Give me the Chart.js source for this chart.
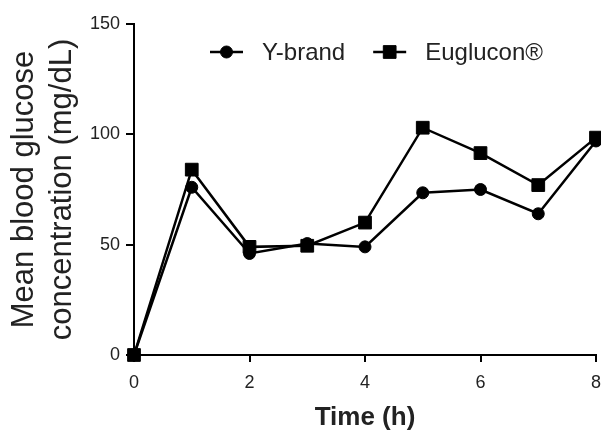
<!DOCTYPE html>
<html>
<head>
<meta charset="utf-8">
<script src="https://cdn.jsdelivr.net/npm/chart.js@4"></script>
<style>
    html, body { margin: 0; padding: 0; background: #fff; }
    #wrap { width: 601px; height: 434px; }
</style>
</head>
<body>
<div id="wrap"><canvas id="glucoseChart" width="601" height="434"></canvas></div>
<script>
// Values
const timeHours = [0, 1, 2, 3, 4, 5, 6, 7, 8];
const yBrand = [0, 76, 46, 50.5, 49, 73.5, 75, 64, 97];
const euglucon = [0, 84, 49, 49.5, 60, 103, 91.5, 77, 98.5];
const seriesNames = ['Y-brand', 'Euglucon®'];

const FONT = '"Liberation Sans", Arial, sans-serif';
const INK = '#000';
const TEXT = '#222';

function toPoints(values) {
    return values.map((v, i) => ({ x: timeHours[i], y: v }));
}

// Legend drawn inside the plot area, line + marker like the original
const innerLegend = {
    id: 'innerLegend',
    afterDraw(chart) {
        const { ctx, chartArea } = chart;
        const lineLen = 33;
        const gapText = 19;
        const gapItem = 28;
        let x = chartArea.left + 76;
        const y = chartArea.top + 28;

        ctx.save();
        ctx.font = '24px ' + FONT;
        ctx.textBaseline = 'middle';
        chart.data.datasets.forEach(ds => {
            ctx.strokeStyle = ds.borderColor;
            ctx.lineWidth = ds.borderWidth;
            ctx.beginPath();
            ctx.moveTo(x, y);
            ctx.lineTo(x + lineLen, y);
            ctx.stroke();
            ctx.fillStyle = INK;
            ctx.lineWidth = 1;
            Chart.helpers.drawPoint(ctx, {
                pointStyle: ds.pointStyle,
                radius: ds.pointRadius,
                borderWidth: 1
            }, x + lineLen / 2, y);
            ctx.fillStyle = TEXT;
            ctx.fillText(ds.label, x + lineLen + gapText, y + 1);
            x += lineLen + gapText + ctx.measureText(ds.label).width + gapItem;
        });
        ctx.restore();
    }
};

function makeDataset(label, values, style, radius) {
    return {
        label: label,
        data: toPoints(values),
        borderColor: INK,
        backgroundColor: INK,
        borderWidth: 2.5,
        pointStyle: style,
        pointRadius: radius,
        pointHoverRadius: radius,
        pointBorderWidth: 1,
        pointBackgroundColor: INK,
        pointBorderColor: INK,
        tension: 0,
        clip: false
    };
}

new Chart(document.getElementById('glucoseChart').getContext('2d'), {
    type: 'line',
    data: {
        datasets: [
            makeDataset(seriesNames[0], yBrand, 'circle', 6),
            makeDataset(seriesNames[1], euglucon, 'rect', 9)
        ]
    },
    options: {
        responsive: false,
        animation: false,
        events: [],
        layout: {
            autoPadding: false,
            padding: { left: 0, right: 5, top: 24, bottom: 0 }
        },
        plugins: {
            legend: { display: false },
            tooltip: { enabled: false }
        },
        scales: {
            x: {
                type: 'linear',
                min: 0,
                max: 8,
                ticks: {
                    stepSize: 2,
                    color: TEXT,
                    padding: 10,
                    font: { family: FONT, size: 18 }
                },
                grid: {
                    drawOnChartArea: false,
                    drawTicks: true,
                    tickLength: 7,
                    color: INK,
                    lineWidth: 2
                },
                border: { color: INK, width: 2 },
                title: {
                    display: true,
                    text: 'Time (h)',
                    color: TEXT,
                    padding: { top: 0, bottom: 1 },
                    font: { family: FONT, size: 26, weight: 'bold', lineHeight: 1.2 }
                },
                afterFit(scale) {
                    scale.height = 79;
                    scale.paddingRight = 0;
                }
            },
            y: {
                min: 0,
                max: 150,
                ticks: {
                    stepSize: 50,
                    color: TEXT,
                    padding: 6,
                    font: { family: FONT, size: 18 }
                },
                grid: {
                    drawOnChartArea: false,
                    drawTicks: true,
                    tickLength: 8,
                    color: INK,
                    lineWidth: 2
                },
                border: { color: INK, width: 2 },
                title: {
                    display: true,
                    text: ['Mean blood glucose', 'concentration (mg/dL)'],
                    color: TEXT,
                    padding: { top: 5, bottom: 0 },
                    font: { family: FONT, size: 31, lineHeight: 1.24 }
                },
                afterFit(scale) { scale.width = 134; }
            }
        }
    },
    plugins: [innerLegend]
});
</script>
</body>
</html>
